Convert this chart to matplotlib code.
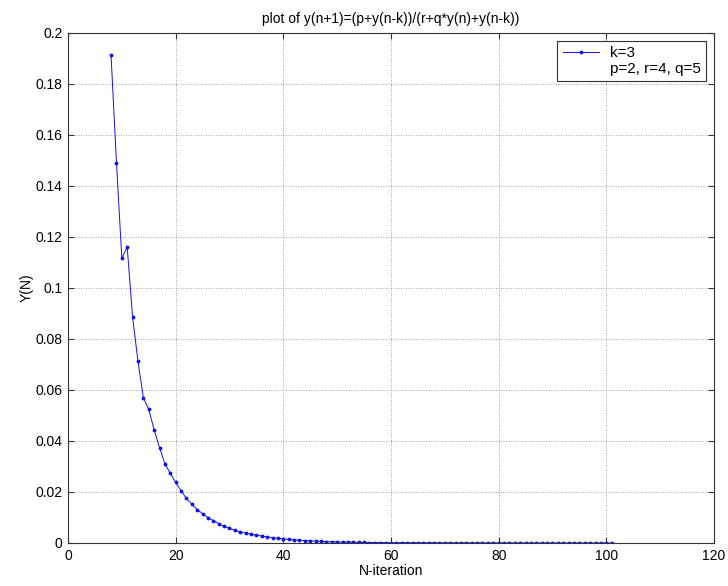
import numpy as np
import matplotlib
matplotlib.use("Agg")
import matplotlib.pyplot as plt
from matplotlib.ticker import FormatStrFormatter

plt.rcParams["font.family"] = ["Liberation Sans", "DejaVu Sans"]

# values, starting at N = 8
n_start = 8
y = [
    0.1913, 0.1492, 0.1117, 0.1160, 0.0886, 0.0712, 0.0570, 0.0524, 0.0444, 0.0374,
    0.0311, 0.0273, 0.0238, 0.0205, 0.0175, 0.0153, 0.0131, 0.0115, 0.0099, 0.0088,
    0.0076, 0.0065, 0.0058, 0.0050, 0.0043, 0.0039, 0.0034, 0.0031, 0.0027, 0.0024,
    0.0021, 0.0018, 0.0016, 0.0014, 0.0012, 0.0011, 0.00095, 0.00083, 0.00073, 0.00064,
    0.00056, 0.00049, 0.00043, 0.00037, 0.00033, 0.00029, 0.00025, 0.00022, 0.00019, 0.00017,
    0.00015, 0.00013, 0.00011, 0.00010, 0.00009, 0.00008, 0.00007, 0.00006, 0.00005, 0.00005,
    0.00004, 0.00004, 0.00003, 0.00003, 0.00003, 0.00002, 0.00002, 0.00002, 0.00002, 0.00001,
    0.00001, 0.00001, 0.00001, 0.00001, 0.00001, 0.00001, 0.0, 0.0, 0.0, 0.0,
    0.0, 0.0, 0.0, 0.0, 0.0, 0.0, 0.0, 0.0, 0.0, 0.0,
    0.0, 0.0, 0.0, 0.0,
]
n = np.arange(n_start, n_start + len(y))
legend_labels = ["k=3", "p=2, r=4, q=5"]

fig = plt.figure(figsize=(7.28, 5.86), dpi=100)
ax = fig.add_axes([0.0934, 0.0734, 0.8873, 0.8703])

ax.plot(n, y, color="#1010ee", linewidth=0.7, marker=".", markersize=3.5,
        label=legend_labels[0])
# second legend row carries text only
ax.plot([], [], linestyle="none", label=legend_labels[1])

ax.set_xlim(0, 120)
ax.set_ylim(0, 0.2)
ax.set_xticks(np.arange(0, 121, 20))
ax.set_yticks(np.arange(0, 0.201, 0.02))
ax.yaxis.set_major_formatter(FormatStrFormatter("%g"))
ax.grid(True, linestyle=(0, (1, 2)), color="#888888", linewidth=0.6)
ax.tick_params(direction="in", top=True, right=True, labelsize=10, length=4,
               color="#333333", pad=4)
for s in ax.spines.values():
    s.set_color("#333333")
    s.set_linewidth(0.8)

ax.set_title("plot of y(n+1)=(p+y(n-k))/(r+q*y(n)+y(n-k))", fontsize=10, pad=7)
ax.set_xlabel("N-iteration", fontsize=10, labelpad=1)
ax.set_ylabel("Y(N)", fontsize=10, labelpad=1)

leg = ax.legend(loc="upper right", fontsize=11, fancybox=False, framealpha=1,
                borderaxespad=0.5, handlelength=2.4, handletextpad=0.7,
                borderpad=0.35, labelspacing=0.1)
leg.get_frame().set_edgecolor("#333333")
leg.get_frame().set_linewidth(0.8)

fig.savefig("out.png", dpi=100)
